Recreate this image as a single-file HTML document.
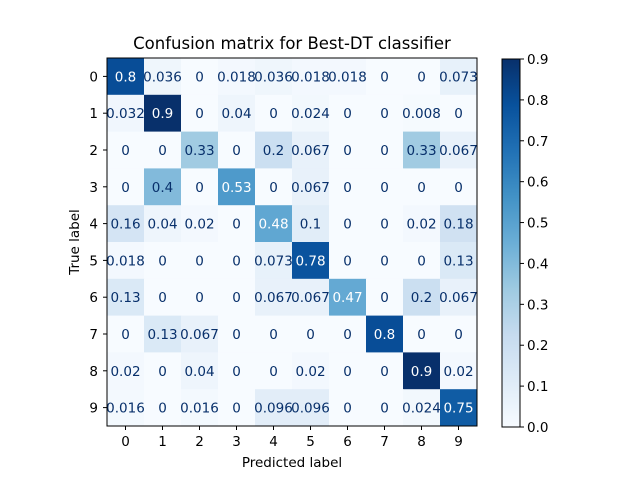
<!DOCTYPE html>
<html><head><meta charset="utf-8"><style>
body{margin:0;background:#fff;}
svg text{font-family:"DejaVu Sans","Liberation Sans",sans-serif;}
</style></head><body>
<svg id="chart" width="640" height="480" viewBox="0 0 640 480" xmlns="http://www.w3.org/2000/svg">
<rect width="640" height="480" fill="#fff"/>
<defs>
<linearGradient id="cbgrad" x1="0" y1="1" x2="0" y2="0">
<stop offset="0" stop-color="#f7fbff"/><stop offset="0.125" stop-color="#deebf7"/><stop offset="0.25" stop-color="#c6dbef"/><stop offset="0.375" stop-color="#9ecae1"/><stop offset="0.5" stop-color="#6baed6"/><stop offset="0.625" stop-color="#4292c6"/><stop offset="0.75" stop-color="#2171b5"/><stop offset="0.875" stop-color="#08519c"/><stop offset="1" stop-color="#08306b"/>
</linearGradient>
</defs>
<text x="292" y="49" font-size="16.5" text-anchor="middle" fill="#000">Confusion matrix for Best-DT classifier</text>
<text x="292" y="467" font-size="13.5" text-anchor="middle" fill="#000">Predicted label</text>
<text x="0" y="0" font-size="13.5" text-anchor="middle" fill="#000" transform="translate(79,242) rotate(-90)">True label</text>
<g id="cells"></g>
<rect x="107" y="58" width="370" height="368" fill="none" stroke="#000" stroke-width="1"/>
<g id="ticks"></g>
<rect x="502" y="59" width="18" height="368" fill="url(#cbgrad)" stroke="#000" stroke-width="1"/>
<g id="cbticks"></g>
</svg>
<script>
const classLabels = ["0","1","2","3","4","5","6","7","8","9"];
const matrixValues = [
[0.8,0.036,0,0.018,0.036,0.018,0.018,0,0,0.073],
[0.032,0.9,0,0.04,0,0.024,0,0,0.008,0],
[0,0,0.33,0,0.2,0.067,0,0,0.33,0.067],
[0,0.4,0,0.53,0,0.067,0,0,0,0],
[0.16,0.04,0.02,0,0.48,0.1,0,0,0.02,0.18],
[0.018,0,0,0,0.073,0.78,0,0,0,0.13],
[0.13,0,0,0,0.067,0.067,0.47,0,0.2,0.067],
[0,0.13,0.067,0,0,0,0,0.8,0,0],
[0.02,0,0.04,0,0,0.02,0,0,0.9,0.02],
[0.016,0,0.016,0,0.096,0.096,0,0,0.024,0.75]
];
const colorbarTicks = [0,0.1,0.2,0.3,0.4,0.5,0.6,0.7,0.8,0.9];

const NS="http://www.w3.org/2000/svg";
const X0=107,Y0=58,W=370,H=368,n=classLabels.length;
const cw=W/n,ch=H/n;
const vmin=0,vmax=0.9;
const xPos=i=>X0+i*cw, yPos=i=>Y0+i*ch;
const cbY=v=>427-(v-vmin)/(vmax-vmin)*368;
const stops=["#f7fbff","#deebf7","#c6dbef","#9ecae1","#6baed6","#4292c6","#2171b5","#08519c","#08306b"].map(h=>[parseInt(h.slice(1,3),16),parseInt(h.slice(3,5),16),parseInt(h.slice(5,7),16)]);
function blues(v){let t=Math.max(0,Math.min(1,(v-vmin)/(vmax-vmin)))*8;let i=Math.min(7,Math.floor(t));let f=t-i;const a=stops[i],b=stops[i+1];return "rgb("+a.map((c,k)=>Math.round(c+(b[k]-c)*f)).join(",")+")";}
function fmt(v){return String(Number(v.toPrecision(2)));}
const cells=document.getElementById("cells");
matrixValues.forEach((row,r)=>row.forEach((v,c)=>{
  const rect=document.createElementNS(NS,"rect");
  rect.setAttribute("x",xPos(c));rect.setAttribute("y",yPos(r));
  rect.setAttribute("width",cw+0.5);rect.setAttribute("height",ch+0.5);
  rect.setAttribute("fill",blues(v));
  
  
  cells.appendChild(rect);
}));
matrixValues.forEach((row,r)=>row.forEach((v,c)=>{
  const t=document.createElementNS(NS,"text");
  t.setAttribute("x",xPos(c)+cw/2);t.setAttribute("y",yPos(r)+ch/2+5);
  t.setAttribute("text-anchor","middle");t.setAttribute("font-size","13.5");
  t.setAttribute("fill",v>(vmax+vmin)/2?"#fff":"#08306b");
  t.textContent=fmt(v);
  
  
  cells.appendChild(t);
}));
const ticks=document.getElementById("ticks");
classLabels.forEach((lab,i)=>{
  const cx=xPos(i)+cw/2, cy=yPos(i)+ch/2;
  const l1=document.createElementNS(NS,"line");
  l1.setAttribute("x1",cx);l1.setAttribute("x2",cx);l1.setAttribute("y1",426);l1.setAttribute("y2",430);l1.setAttribute("stroke","#000");
  
  
  ticks.appendChild(l1);
  const t1=document.createElementNS(NS,"text");
  t1.setAttribute("x",cx);t1.setAttribute("y",446);t1.setAttribute("text-anchor","middle");t1.setAttribute("font-size","13.5");
  t1.textContent=lab;
  
  
  ticks.appendChild(t1);
  const l2=document.createElementNS(NS,"line");
  l2.setAttribute("x1",103);l2.setAttribute("x2",107);l2.setAttribute("y1",cy);l2.setAttribute("y2",cy);l2.setAttribute("stroke","#000");
  
  
  ticks.appendChild(l2);
  const t2=document.createElementNS(NS,"text");
  t2.setAttribute("x",98);t2.setAttribute("y",cy+5);t2.setAttribute("text-anchor","end");t2.setAttribute("font-size","13.5");
  t2.textContent=lab;
  
  
  ticks.appendChild(t2);
});
const cbt=document.getElementById("cbticks");
colorbarTicks.forEach(v=>{
  const y=cbY(v);
  const l=document.createElementNS(NS,"line");
  l.setAttribute("x1",520);l.setAttribute("x2",524);l.setAttribute("y1",y);l.setAttribute("y2",y);l.setAttribute("stroke","#000");
  
  
  cbt.appendChild(l);
  const t=document.createElementNS(NS,"text");
  t.setAttribute("x",527);t.setAttribute("y",y+5);t.setAttribute("font-size","13.5");
  t.textContent=v.toFixed(1);
  
  
  cbt.appendChild(t);
});
</script>
</body></html>
